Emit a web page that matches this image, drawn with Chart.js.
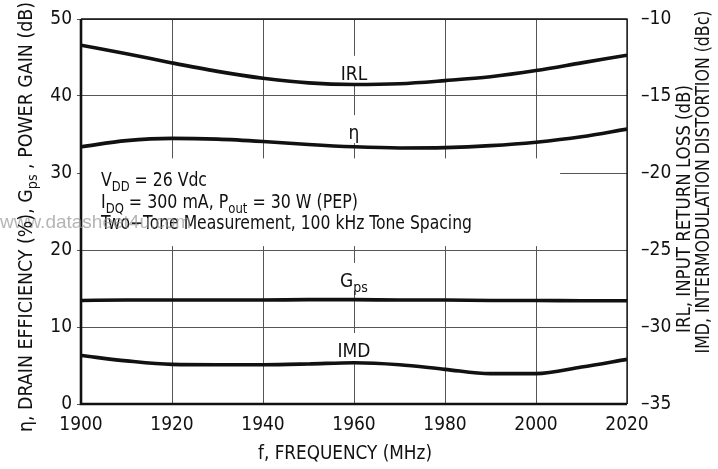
<!DOCTYPE html>
<html lang="en">
<head>
  <meta charset="UTF-8" />
  <title>Gain, Efficiency, IRL and IMD versus Frequency</title>
  <script src="https://cdn.jsdelivr.net/npm/chart.js"></script>
  <style>
    html, body { margin: 0; padding: 0; background: #fff; }
    #wrap { width: 718px; height: 469px; }
  </style>
</head>
<body>
  <div id="wrap"><canvas id="chart" width="718" height="469"></canvas></div>

  <script>
    // frequency points (MHz)
    const freq = [1900, 1910, 1920, 1930, 1940, 1950, 1960, 1970, 1980, 1990, 2000, 2010, 2020];

    // left axis: drain efficiency (%) and power gain (dB)
    const eta = [33.4, 34.2, 34.5, 34.4, 34.1, 33.7, 33.4, 33.25, 33.3, 33.55, 34.0, 34.7, 35.7];
    const gps = [13.45, 13.5, 13.5, 13.5, 13.5, 13.55, 13.55, 13.5, 13.5, 13.45, 13.45, 13.4, 13.4];

    // right axis: input return loss (dB) and IMD (dBc)
    const irl = [-11.7, -12.25, -12.85, -13.4, -13.85, -14.15, -14.25, -14.2, -14.0, -13.75, -13.35, -12.85, -12.35];
    const imd = [-31.85, -32.2, -32.43, -32.45, -32.45, -32.4, -32.32, -32.45, -32.75, -33.03, -33.03, -32.6, -32.1];

    const xTicks = [1900, 1920, 1940, 1960, 1980, 2000, 2020];
    const leftTicks = [0, 10, 20, 30, 40, 50];
    const rightTicks = [-35, -30, -25, -20, -15, -10];

    const FONT = "'Liberation Sans Narrow', 'DejaVu Sans Condensed', 'Roboto Condensed', sans-serif";
    const INK = "#111";

    // curve labels: [main, subscript, x (MHz), baseline (left-axis units)]
    const curveLabels = [
      ["IRL", "", 1960, 42.1],
      ["\u03b7", "", 1960, 34.4],
      ["G", "ps", 1960, 15.2],
      ["IMD", "", 1960, 6.1]
    ];

    function pts(ys) { return freq.map((f, i) => ({ x: f, y: ys[i] })); }

    function line(data, axis) {
      return {
        data: pts(data),
        yAxisID: axis,
        borderColor: INK,
        borderWidth: 3.6,
        pointRadius: 0,
        cubicInterpolationMode: "monotone",
        fill: false
      };
    }

    // draw a run of [text, isSub] pieces; if width is given the run is squeezed to it
    function runText(ctx, parts, x, y, size, align, width) {
      const sizes = parts.map(p => p[1] ? Math.round(size * 0.75) : size);
      const widths = parts.map((p, i) => { ctx.font = sizes[i] + "px " + FONT; return ctx.measureText(p[0]).width; });
      const total = widths.reduce((a, b) => a + b, 0);
      const k = width ? width / total : 1;
      const x0 = align === "center" ? x - total * k / 2 : x;
      ctx.save();
      ctx.translate(x0, y);
      ctx.scale(k, 1);
      ctx.textAlign = "left";
      let cx = 0;
      parts.forEach((p, i) => {
        ctx.font = sizes[i] + "px " + FONT;
        ctx.fillText(p[0], cx, p[1] ? 5 : 0);
        cx += widths[i];
      });
      ctx.restore();
    }

    function rotated(ctx, parts, x, y, size, width) {
      ctx.save();
      ctx.translate(x, y);
      ctx.rotate(-Math.PI / 2);
      runText(ctx, parts, 0, 0, size, "center", width);
      ctx.restore();
    }

    const decor = {
      id: "decor",
      beforeDatasetsDraw(chart) {
        const { ctx, chartArea: a, scales } = chart;
        const xs = scales.x, ys = scales.y;
        ctx.save();
        ctx.fillStyle = "#fff";
        // conditions box hides the grid behind the note
        ctx.fillRect(a.left + 1, ys.getPixelForValue(31.9), xs.getPixelForValue(2005.3) - a.left - 1,
          ys.getPixelForValue(20.5) - ys.getPixelForValue(31.9));
        // label backgrounds
        curveLabels.forEach(l => {
          const cx = xs.getPixelForValue(l[2]);
          const by = ys.getPixelForValue(l[3]);
          ctx.fillRect(cx - 20, by - 24, 40, 28);
        });
        ctx.restore();
      },
      afterDatasetsDraw(chart) {
        const { ctx, chartArea: a, scales } = chart;
        const xs = scales.x, ys = scales.y;
        ctx.save();
        ctx.fillStyle = INK;
        ctx.textBaseline = "alphabetic";

        curveLabels.forEach(l => {
          runText(ctx, [[l[0], 0], [l[1], 1]], xs.getPixelForValue(l[2]), ys.getPixelForValue(l[3]), 19, "center");
        });

        // test conditions
        const tx = a.left + 20;
        runText(ctx, [["V", 0], ["DD", 1], [" = 26 Vdc", 0]], tx, 186, 19, "left", 106);
        runText(ctx, [["I", 0], ["DQ", 1], [" = 300 mA, P", 0], ["out", 1], [" = 30 W (PEP)", 0]], tx, 207.5, 19, "left", 257);
        runText(ctx, [["Two\u2212Tone Measurement, 100 kHz Tone Spacing", 0]], tx, 228.5, 19, "left", 371);

        // frame: heavy left/bottom, light top/right
        ctx.strokeStyle = INK;
        ctx.lineWidth = 1.3;
        ctx.beginPath();
        ctx.moveTo(a.left, a.top); ctx.lineTo(a.right, a.top); ctx.lineTo(a.right, a.bottom);
        ctx.stroke();
        ctx.lineWidth = 2.6;
        ctx.beginPath();
        ctx.moveTo(a.left, a.top); ctx.lineTo(a.left, a.bottom); ctx.lineTo(a.right, a.bottom);
        ctx.stroke();

        // watermark
        ctx.fillStyle = "rgba(150,150,150,0.7)";
        ctx.font = "19px 'Liberation Sans', Arial, sans-serif";
        ctx.textAlign = "left";
        ctx.fillText("www.datasheet4u.com", 0, 228);

        // axis titles
        ctx.fillStyle = INK;
        runText(ctx, [["f, FREQUENCY (MHz)", 0]], 345, 459, 19, "center", 174);
        rotated(ctx, [["\u03b7, DRAIN EFFICIENCY (%), G", 0], ["ps", 1], [" , POWER GAIN (dB)", 0]], 32, 217, 19, 430);
        rotated(ctx, [["IRL, INPUT RETURN LOSS (dB)", 0]], 690, 209, 19, 248);
        rotated(ctx, [["IMD, INTERMODULATION DISTORTION (dBc)", 0]], 709, 182, 19, 343);

        ctx.restore();
      }
    };

    const tickFont = { family: FONT, size: 19 };

    new Chart(document.getElementById("chart"), {
      type: "line",
      data: {
        datasets: [
          line(irl, "y2"),
          line(eta, "y"),
          line(gps, "y"),
          line(imd, "y2")
        ]
      },
      options: {
        responsive: false,
        animation: false,
        layout: { padding: { top: 19, left: 0, right: 0, bottom: 0 } },
        plugins: { legend: { display: false }, tooltip: { enabled: false } },
        scales: {
          x: {
            type: "linear",
            min: 1900, max: 2020,
            afterBuildTicks: s => { s.ticks = xTicks.map(v => ({ value: v })); },
            afterFit: s => { s.height = 65; },
            ticks: { font: tickFont, color: INK, padding: 10, callback: v => String(v), maxRotation: 0 },
            grid: { color: "#555", lineWidth: 1, drawTicks: false },
            border: { display: false }
          },
          y: {
            position: "left",
            min: 0, max: 50,
            afterBuildTicks: s => { s.ticks = leftTicks.map(v => ({ value: v })); },
            afterFit: s => { s.width = 81; },
            ticks: { font: tickFont, color: INK, padding: 5 },
            grid: { color: "#555", lineWidth: 1, tickLength: 4 },
            border: { display: false }
          },
          y2: {
            position: "right",
            min: -35, max: -10,
            afterBuildTicks: s => { s.ticks = rightTicks.map(v => ({ value: v })); },
            afterFit: s => { s.width = 91; },
            ticks: { font: tickFont, color: INK, padding: 6, callback: v => String(v).replace("-", "\u2013") },
            grid: { display: false },
            border: { display: false }
          }
        }
      },
      plugins: [decor]
    });
  </script>
</body>
</html>
